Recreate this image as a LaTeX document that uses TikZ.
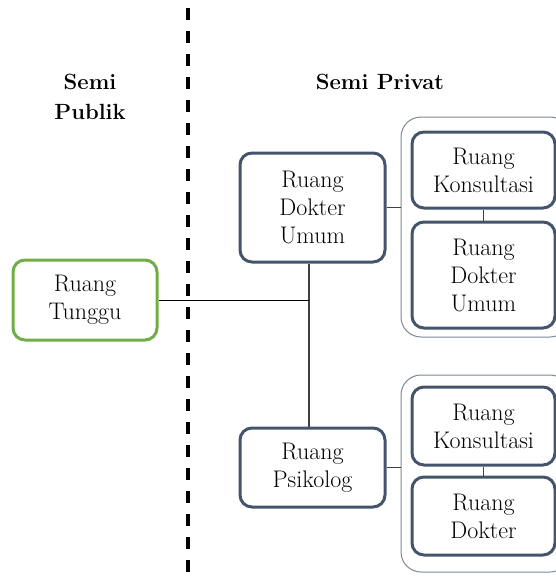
\documentclass[tikz,border=0pt]{standalone}
\usepackage{fontspec}
\definecolor{slate}{HTML}{44546A}
\definecolor{leaf}{HTML}{70AD47}

\begin{document}
\begin{tikzpicture}
[
x=1pt, y=-1pt,
every node/.style={font=\fontsize{24}{28}\selectfont, align=center, inner sep=0pt},
room/.style={draw=slate, line width=3pt, rounded corners=12pt, minimum width=145pt},
inroom/.style={room, minimum width=143pt},
group/.style={draw=slate!70, line width=1pt, rounded corners=20pt},
link/.style={draw=black!75, line width=1.5pt},
zone/.style={font=\fontsize{22}{30}\selectfont\bfseries}
]
\useasboundingbox (0,0) rectangle (556,579);

% zones
\node[zone] (publik) at (90,97) {Semi\\Publik};
\node[zone] (privat) at (380,82) {Semi Privat};
\coordinate (divtop) at (188,8);
\coordinate (divbot) at (188,579);
\draw[line width=3.5pt, dash pattern=on 12pt off 11pt] (divtop) -- (divbot);

% rooms
\node[room, draw=leaf, minimum width=144pt, minimum height=80pt] (tunggu) at (85,300) {Ruang\\Tunggu};
\node[room, minimum height=109pt] (umum) at (312.5,207.5) {Ruang\\Dokter\\Umum};
\node[room, minimum height=79pt] (psikolog) at (312.5,467.5) {Ruang\\Psikolog};

% groups
\node[group, minimum width=169pt, minimum height=220pt] (grpA) at (485.5,227) {};
\node[group, minimum width=169pt, minimum height=197pt] (grpB) at (485.5,473.5) {};

\node[inroom, minimum height=76pt] (konsulA) at (483.5,170) {Ruang\\Konsultasi};
\node[inroom, minimum height=106pt] (dokterA) at (483.5,275) {Ruang\\Dokter\\Umum};
\node[inroom, minimum height=78pt] (konsulB) at (483.5,426) {Ruang\\Konsultasi};
\node[inroom, minimum height=78pt] (dokterB) at (483.5,516) {Ruang\\Dokter};

% links
\draw[link] ([xshift=-3.5pt]umum.south) -- ([xshift=-3.5pt]psikolog.north);
\draw[link, draw=black, line width=1pt] (tunggu.east) -- ([xshift=-3.5pt]tunggu.east -| umum.south);
\draw[link] (umum.east) -- (umum.east -| grpA.west);
\draw[link] (psikolog.east) -- (psikolog.east -| grpB.west);
\draw[link] (konsulA.south) -- (dokterA.north);
\draw[link] (konsulB.south) -- (dokterB.north);
\end{tikzpicture}
\end{document}
